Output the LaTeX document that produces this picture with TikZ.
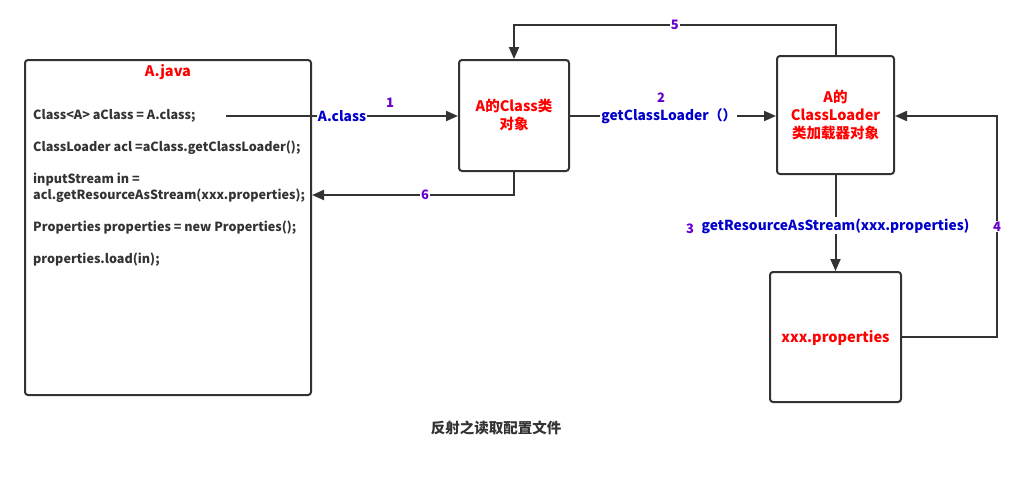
\documentclass[tikz,border=0pt]{standalone}
\usepackage{fontspec}
\setmainfont{Noto Sans CJK SC}
\usetikzlibrary{arrows.meta}
\definecolor{ln}{HTML}{333333}
\definecolor{rd}{HTML}{FF0000}
\definecolor{bl}{HTML}{0000CC}
\definecolor{pu}{HTML}{6600CC}
\tikzset{
  box/.style={draw=ln, line width=2pt, rounded corners=3pt, fill=white, inner sep=0pt},
  conn/.style={draw=ln, line width=2pt, -{Triangle[length=12pt,width=10pt]}},
  title/.style={text=rd, font=\fontsize{14.5}{18}\selectfont\bfseries, align=center},
  code/.style={text=ln, font=\fontsize{12.6}{15}\selectfont\bfseries, anchor=west, inner sep=0pt},
  lbl/.style={text=bl, font=\fontsize{13.8}{16}\selectfont\bfseries, fill=white, inner sep=1pt},
  num/.style={text=pu, font=\fontsize{13}{15}\selectfont\bfseries, inner sep=1pt},
  numw/.style={num, fill=white}
}
\begin{document}
\begin{tikzpicture}[x=1pt,y=-1pt]
\useasboundingbox (0,0) rectangle (1022,491);
% boxes
\node[box, minimum width=286pt, minimum height=335pt] (java) at (168,227.5) {};
\node[title] (javat) at (168,72) {A.java};
\node[box, minimum width=110pt, minimum height=111pt] (cls) at (514,115.5) {};
\node[title] (clst) at (514,115) {A的Class类\\对象};
\node[box, minimum width=117pt, minimum height=118pt] (ldr) at (835.5,115) {};
\node[title] (ldrt) at (835.5,115) {A的\\ClassLoader\\类加载器对象};
\node[box, minimum width=131pt, minimum height=130pt] (xxx) at (835.5,337) {};
\node[title] (xxxt) at (835.5,338) {xxx.properties};
% code lines
\node[code] (c1) at (33,116) {Class<A> aClass = A.class;};
\node[code] (c2) at (33,148) {ClassLoader acl =aClass.getClassLoader();};
\node[code] (c3) at (33,180) {inputStream in =};
\node[code] (c4) at (33,196) {acl.getResourceAsStream(xxx.properties);};
\node[code] (c5) at (33,228) {Properties properties = new Properties();};
\node[code] (c6) at (33,260) {properties.load(in);};
% coordinates
\coordinate (s1) at (226,116);
\coordinate (t1) at (cls.west |- s1);
\coordinate (t6) at (java.east |- 0,195);
% connectors
\draw[conn] (s1) -- node[lbl, pos=0.5] (l1) {A.class} (t1);
\node[num] (n1) at (390,103) {1};
\draw[conn] (cls.east |- 0,116) -- node[lbl, pos=0.48] (l2) {getClassLoader（）} (ldr.west |- 0,116);
\node[num] (n2) at (661,98) {2};
\draw[conn] (ldr.north) -- (ldr.north |- 0,25) -- node[numw, pos=0.5] (n5) {5} (cls.north |- 0,25) -- (cls.north);
\draw[conn] (cls.south) -- (cls.south |- t6) -- node[numw, pos=0.44] (n6) {6} (t6);
\draw[conn] (ldr.south) -- node[lbl, pos=0.53] (l3) {getResourceAsStream(xxx.properties)} (xxx.north);
\node[num] (n3) at (690,229) {3};
\draw[conn] (xxx.east |- 0,337) -- (997,337) -- node[numw, pos=0.5] (n4) {4} (997,116) -- (ldr.east |- 0,116);
% caption
\node[text=ln, font=\fontsize{14.5}{16}\selectfont\bfseries] (cap) at (496,428) {反射之读取配置文件};
\end{tikzpicture}
\end{document}
